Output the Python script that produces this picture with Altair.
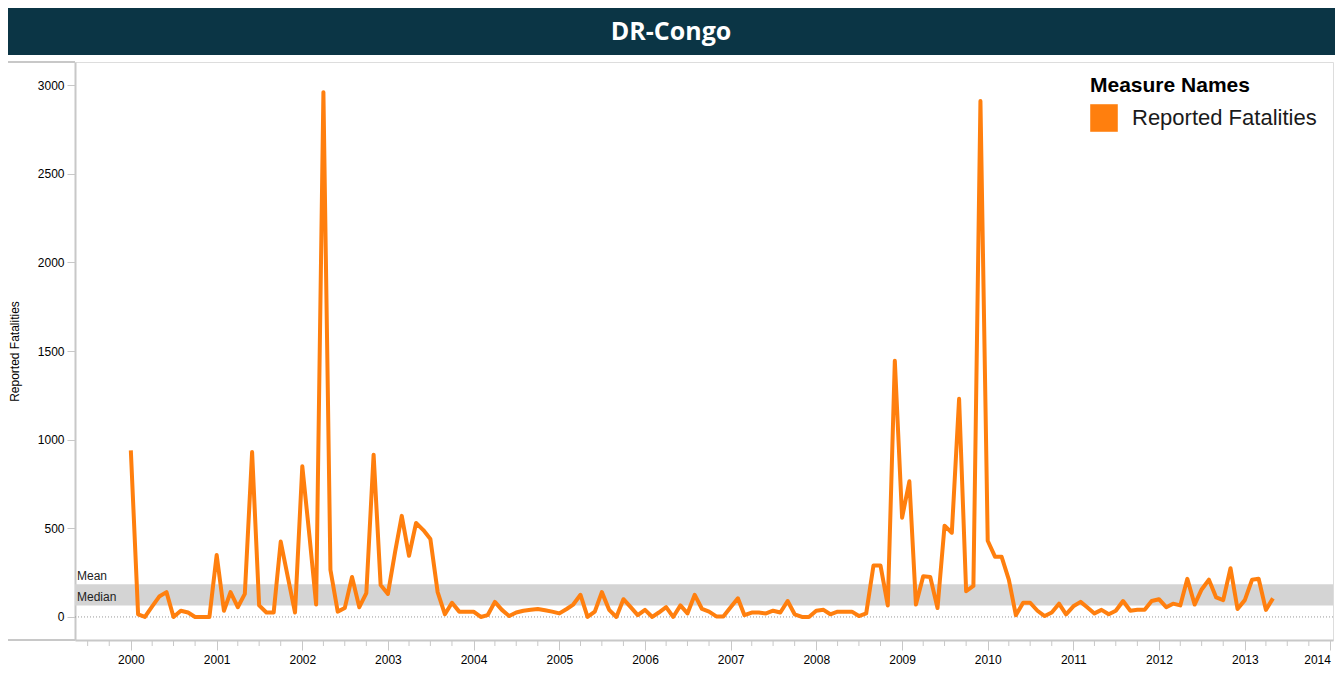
import altair as alt
import pandas as pd

# ---- data (monthly reported fatalities, Jan 2000 - May 2013)
y2000 = [940, 15, 0, 60, 115, 140, 0, 35, 25, 0, 0, 0]
y2001 = [350, 35, 140, 55, 130, 930, 65, 25, 25, 425, 220, 25]
y2002 = [850, 450, 70, 2960, 265, 30, 50, 225, 55, 135, 915, 180]
y2003 = [130, 370, 570, 345, 530, 490, 440, 140, 15, 80, 30, 30]
y2004 = [30, 0, 10, 85, 40, 5, 25, 35, 40, 45, 38, 30]
y2005 = [20, 45, 70, 125, 0, 30, 140, 40, 0, 100, 55, 10]
y2006 = [40, 0, 25, 55, 0, 65, 20, 125, 45, 30, 3, 3]
y2007 = [55, 105, 10, 25, 25, 20, 35, 25, 90, 15, 0, 0]
y2008 = [35, 40, 15, 30, 30, 30, 5, 20, 290, 290, 65, 1445]
y2009 = [560, 765, 70, 230, 225, 50, 515, 475, 1230, 145, 175, 2910]
y2010 = [430, 340, 340, 210, 10, 80, 80, 35, 5, 25, 75, 15]
y2011 = [60, 85, 55, 20, 40, 15, 35, 90, 35, 40, 40, 90]
y2012 = [100, 55, 75, 65, 215, 70, 155, 210, 110, 95, 275, 45]
y2013 = [95, 210, 215, 40, 105]

fatalities = (y2000 + y2001 + y2002 + y2003 + y2004 + y2005 + y2006 + y2007
              + y2008 + y2009 + y2010 + y2011 + y2012 + y2013)
months = [f"{2000 + i // 12}-{i % 12 + 1:02d}-01T00:00:00" for i in range(len(fatalities))]

band_mean = 184
band_median = 65
year_ticks = list(range(2000, 2015))
y_ticks = [0, 500, 1000, 1500, 2000, 2500, 3000]
measure = "Reported Fatalities"
country = "DR-Congo"

quarters = [f"{y}-{m:02d}-01T00:00:00" for y in range(1999, 2014) for m in (1, 4, 7, 10)
            if (y, m) >= (1999, 7) and m != 1]

# ---- layout constants
W, H = 1258, 578
FONT = "Liberation Sans"
ORANGE = "#ff7f0e"
GRID = "#c8c8c8"

x_scale = alt.Scale(domain=[alt.DateTime(year=1999, month=5, date=8),
                            alt.DateTime(year=2014, month=1, date=12)])
y_scale = alt.Scale(domain=[-130, 3130], nice=False, zero=False)

x_axis = alt.Axis(values=[alt.DateTime(year=y, month=1, date=1) for y in year_ticks],
                  format="%Y", title=None, grid=False, tickSize=10, labelPadding=4,
                  labelFontSize=12, labelFont=FONT, labelColor="#000", labelFlush=6,
                  domainColor=GRID, domainWidth=2, tickColor=GRID, labelAngle=0)
y_axis = alt.Axis(values=y_ticks, format="d", title="Reported Fatalities", grid=False,
                  tickSize=8, labelPadding=3, labelFontSize=12, labelFont=FONT,
                  labelColor="#000", titleFont=FONT, titleFontSize=12,
                  titleFontWeight="normal", titleColor="#000", titlePadding=16,
                  domainColor=GRID, domainWidth=2, tickColor=GRID)


def X():
    return alt.X("month:T", scale=x_scale, axis=x_axis)


def Y():
    return alt.Y("value:Q", scale=y_scale, axis=y_axis)


df = pd.DataFrame({"month": months, "value": fatalities, "measure": measure})
band_df = pd.DataFrame({"value": [band_median], "value2": [band_mean]})
zero_df = pd.DataFrame({"value": [0]})
ref_df = pd.DataFrame({"value": [band_mean, band_median], "label": ["Mean", "Median"]})
minor_df = pd.DataFrame({"month": quarters})
head_df = pd.DataFrame({"t": [country]})

band = alt.Chart(band_df).mark_rect(color="#d4d4d4").encode(
    x=alt.value(0), x2=alt.value(W), y=Y(), y2=alt.Y2("value2:Q"))

zero = alt.Chart(zero_df).mark_rule(color="#9a9a9a", strokeDash=[1, 2], strokeWidth=1).encode(
    x=alt.value(0), x2=alt.value(W), y=Y())

refs = alt.Chart(ref_df).mark_text(align="left", baseline="bottom", dx=2, dy=-1,
                                   font=FONT, fontSize=12, color="#222").encode(
    x=alt.value(0), y=Y(), text="label:N")

line = alt.Chart(df).mark_line(strokeWidth=4, strokeJoin="round").encode(
    x=X(), y=Y(),
    color=alt.Color("measure:N", scale=alt.Scale(range=[ORANGE]),
                    legend=alt.Legend(title="Measure Names", orient="none",
                                      legendX=1015, legendY=13, padding=0,
                                      titleFont=FONT, titleFontSize=21,
                                      titleFontWeight="bold", titleColor="#000",
                                      titlePadding=8, titleLimit=400, labelLimit=400,
                                      labelFont=FONT, labelFontSize=22,
                                      labelColor="#1a1a1a", labelOffset=14,
                                      symbolType="square", symbolSize=760,
                                      symbolFillColor=ORANGE, symbolStrokeColor=ORANGE,
                                      symbolStrokeWidth=0)))

minor = alt.Chart(minor_df).mark_rule(color=GRID, strokeWidth=1, clip=False).encode(
    x=X(), y=alt.value(H), y2=alt.value(H + 6))

header = alt.Chart(head_df).mark_rect(color="#0b3545", clip=False).encode(
    x=alt.value(-67), x2=alt.value(W + 2), y=alt.value(-54), y2=alt.value(-7))

header_text = alt.Chart(head_df).mark_text(font="Open Sans", fontWeight="bold", fontSize=25,
                                           color="white", align="center", baseline="middle",
                                           clip=False).encode(
    x=alt.value(596), y=alt.value(-30), text="t:N")

top_ext = alt.Chart(head_df).mark_rule(color=GRID, strokeWidth=2, clip=False).encode(
    x=alt.value(-67), x2=alt.value(0), y=alt.value(0))
bottom_ext = alt.Chart(head_df).mark_rule(color=GRID, strokeWidth=2, clip=False).encode(
    x=alt.value(-67), x2=alt.value(0), y=alt.value(H))

chart = alt.layer(band, zero, refs, line, minor, header, header_text, top_ext, bottom_ext).properties(
    width=W, height=H,
    autosize=alt.AutoSizeParams(type="none"),
    padding={"left": 67, "top": 54, "right": 2, "bottom": 28},
).configure_view(stroke=GRID, strokeWidth=2).configure(background="white")

chart.save("out.html", embed_options={"renderer": "svg", "actions": False})
